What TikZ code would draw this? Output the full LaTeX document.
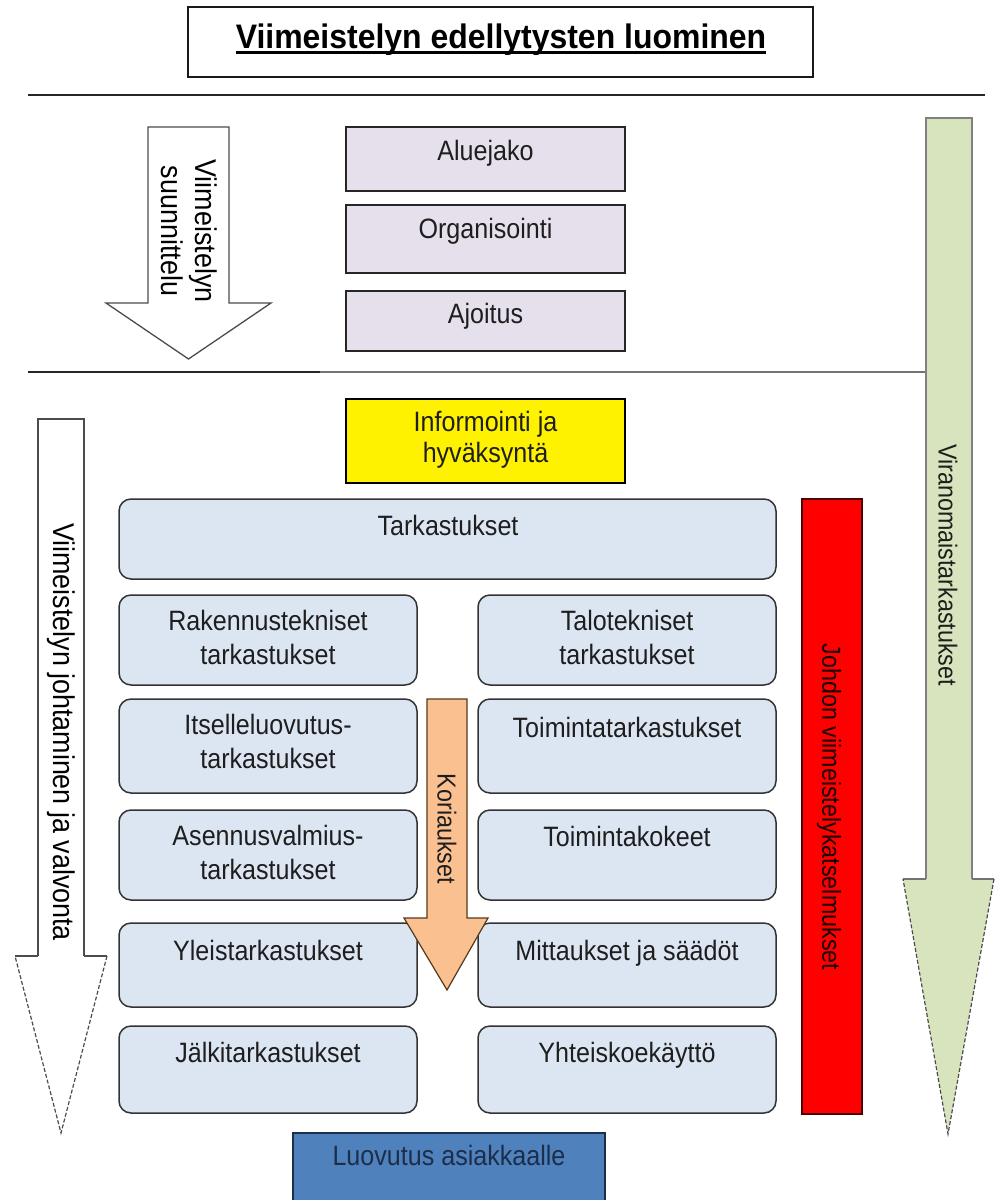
\documentclass[tikz,border=0pt]{standalone}
\usepackage{fontspec}
\setmainfont{Liberation Sans}[FakeStretch=0.896]
\newfontfamily\titlefont{Liberation Sans}[FakeStretch=0.94]
\usetikzlibrary{calc}
\definecolor{lav}{HTML}{E6E0EC}
\definecolor{paleblue}{HTML}{DCE6F2}
\definecolor{orng}{HTML}{FAC090}
\definecolor{grn}{HTML}{D7E4BD}
\definecolor{stblue}{HTML}{4F81BD}
\definecolor{navy}{HTML}{1C2E4A}
\definecolor{txtc}{HTML}{1E1E1E}
\begin{document}
\begin{tikzpicture}[x=1pt,y=-1pt,
  txt/.style={inner sep=0pt, text=txtc, font=\fontsize{28}{34}\selectfont, align=center},
  rtxt/.style={inner sep=0pt, text=txtc, font=\fontsize{26}{30}\selectfont, align=center, rotate=-90},
  atxt/.style={inner sep=0pt, text=black, font=\fontsize{30}{35}\selectfont, align=center, rotate=-90},
  sqbox/.style={draw=black!85, line width=1.6pt, fill=lav, inner sep=0pt},
  rbox/.style={draw=black!80, line width=1.5pt, fill=paleblue, rounded corners=12pt, inner sep=0pt},
  plainbox/.style={draw=black!90, line width=1.4pt, fill=white, inner sep=0pt},
  arrowline/.style={draw=black!70, line width=1.3pt},
  headline/.style={draw=black!70, line width=1.2pt, dashed, dash pattern=on 4pt off 2pt},
]
\useasboundingbox (0,0) rectangle (995,1200);
\fill[white] (0,0) rectangle (995,1200);

% title
\node[plainbox, minimum width=625pt, minimum height=70pt] (titlebox) at (500.5,42) {};
\node[inner sep=0pt, anchor=base, font=\titlefont\bfseries\fontsize{34}{38}\selectfont] (title) at (501,48) {Viimeistelyn edellytysten luominen};
\draw[line width=2.4pt] ($(title.base west)+(0,4.5)$) -- ($(title.base east)+(0,4.5)$);

% separator lines
\coordinate (l1a) at (28,95);
\coordinate (l1b) at (985,95);
\draw[line width=1.8pt, black!85] (l1a) -- (l1b);
\coordinate (l2a) at (28,372);
\coordinate (l2m) at (320,372);
\coordinate (l2b) at (926,372);
\draw[line width=1.8pt, black!85] (l2a) -- (l2m);
\draw[line width=1.6pt, black!55] (l2m) -- (l2b);

% planning arrow
\filldraw[fill=white, arrowline] (148,127) -- (229,127) -- (229,303) -- (271,303) -- (188.5,359) -- (106,303) -- (148,303) -- cycle;
\node[atxt, font=\fontsize{30}{34}\selectfont] (a1t) at (189,231) {Viimeistelyn\\suunnittelu};

% upper boxes
\node[sqbox, minimum width=279pt, minimum height=64pt] (alue) at (485.5,159) {};
\node[txt, anchor=base] (aluet) at (485.5,160) {Aluejako};
\node[sqbox, minimum width=279pt, minimum height=68pt] (org) at (485.5,239) {};
\node[txt, anchor=base] (orgt) at (485.5,238) {Organisointi};
\node[sqbox, minimum width=279pt, minimum height=60pt] (ajo) at (485.5,321) {};
\node[txt, anchor=base] (ajot) at (485.5,323) {Ajoitus};

% green arrow
\fill[grn] (926,118) -- (972,118) -- (972,879) -- (994,879) -- (948,1134) -- (903,879) -- (926,879) -- cycle;
\draw[line width=1.4pt, black!50] (926,879) -- (926,118) -- (972,118) -- (972,879);
\draw[line width=1.2pt, black!55] (926,879) -- (903,879);
\draw[line width=1.2pt, black!55] (972,879) -- (994,879);
\draw[headline] (994,879) -- (948,1134) -- (903,879);
\node[rtxt] (virt) at (948,565) {Viranomaistarkastukset};

% left big arrow
\fill[white] (38,419) -- (84,419) -- (84,956) -- (107,956) -- (61,1133) -- (15,956) -- (38,956) -- cycle;
\draw[arrowline] (38,956) -- (38,419) -- (84,419) -- (84,956);
\draw[arrowline] (38,956) -- (15,956);
\draw[arrowline] (84,956) -- (107,956);
\draw[headline] (107,956) -- (61,1133) -- (15,956);
\node[atxt] (a2t) at (61,732) {Viimeistelyn johtaminen ja valvonta};

% informointi
\node[draw=black, line width=1.6pt, fill=yellow, minimum width=279pt, minimum height=84pt, inner sep=0pt] (info) at (485.5,441) {};
\node[txt, font=\fontsize{28}{31}\selectfont] (infot) at (485.5,440) {Informointi ja\\hyväksyntä};

% tarkastukset
\node[rbox, minimum width=657pt, minimum height=80pt] (tark) at (447.5,539) {};
\node[txt, anchor=base] (tarkt) at (448,535) {Tarkastukset};

% left column
\node[rbox, minimum width=298pt, minimum height=90pt] (rak) at (268,640) {};
\node[txt] (rakt) at (268,637) {Rakennustekniset\\tarkastukset};
\node[rbox, minimum width=298pt, minimum height=94pt] (its) at (268,746) {};
\node[txt] (itst) at (268,741) {Itselleluovutus-\\tarkastukset};
\node[rbox, minimum width=298pt, minimum height=90pt] (ase) at (268,855) {};
\node[txt] (aset) at (268,852) {Asennusvalmius-\\tarkastukset};
\node[rbox, minimum width=298pt, minimum height=84pt] (yle) at (268,965) {};
\node[txt, anchor=base] (ylet) at (268,960) {Yleistarkastukset};
\node[rbox, minimum width=298pt, minimum height=87pt] (jal) at (268,1069.5) {};
\node[txt, anchor=base] (jalt) at (268,1062) {Jälkitarkastukset};

% right column
\node[rbox, minimum width=298pt, minimum height=90pt] (tal) at (627,640) {};
\node[txt] (talt) at (627,637) {Talotekniset\\tarkastukset};
\node[rbox, minimum width=298pt, minimum height=94pt] (toi) at (627,746) {};
\node[txt, anchor=base] (toit) at (627,737) {Toimintatarkastukset};
\node[rbox, minimum width=298pt, minimum height=90pt] (tko) at (627,855) {};
\node[txt, anchor=base] (tkot) at (627,846) {Toimintakokeet};
\node[rbox, minimum width=298pt, minimum height=84pt] (mit) at (627,965) {};
\node[txt, anchor=base] (mitt) at (627,960) {Mittaukset ja säädöt};
\node[rbox, minimum width=298pt, minimum height=87pt] (yht) at (627,1069.5) {};
\node[txt, anchor=base] (yhtt) at (627,1062) {Yhteiskoekäyttö};

% orange arrow
\filldraw[fill=orng, draw=black!55!brown, line width=1.2pt] (427,699) -- (467,699) -- (467,918) -- (488,918) -- (447,990) -- (404,918) -- (427,918) -- cycle;
\node[rtxt] (kort) at (447,829) {Koriaukset};

% red bar
\node[draw=black!70!red, line width=1.5pt, fill=red, minimum width=60pt, minimum height=615pt, inner sep=0pt] (red) at (832,806.5) {};
\node[rtxt, text=black!90!red] (redt) at (829,807) {Johdon viimeistelykatselmukset};

% luovutus
\node[draw=navy, line width=1.5pt, fill=stblue, minimum width=312pt, minimum height=72pt, inner sep=0pt] (luo) at (449,1169) {};
\node[txt, anchor=base, text=navy] (luot) at (449,1165) {Luovutus asiakkaalle};
\end{tikzpicture}
\end{document}
